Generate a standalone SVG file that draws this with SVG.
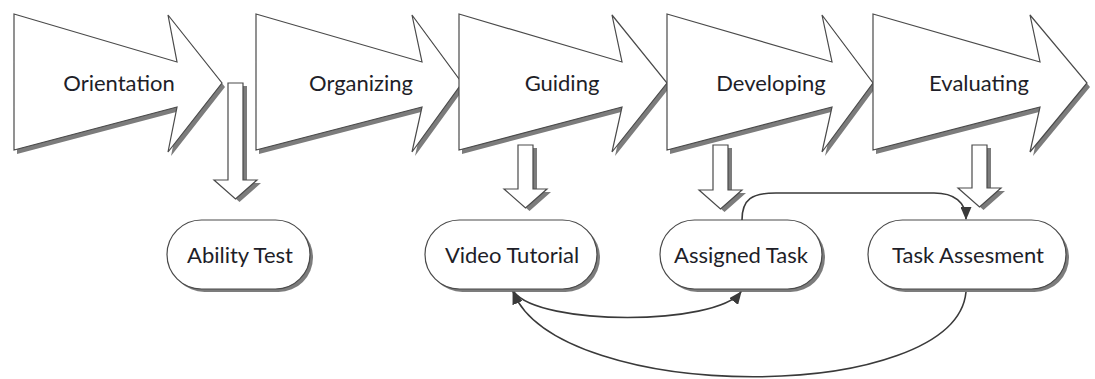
<svg xmlns="http://www.w3.org/2000/svg" xmlns:xlink="http://www.w3.org/1999/xlink" width="1095" height="379" viewBox="0 0 1095 379">
  <style>
    .shadow { fill: #7c7c7c; stroke: none; }
    .shape { fill: #ffffff; stroke: #4a4a4a; stroke-width: 1.2; stroke-linejoin: miter; }
    .label { font-family: Lato, "Liberation Sans", sans-serif; font-size: 22px; fill: #1e1e28; text-anchor: middle; }
    .link { fill: none; stroke: #3a3a3a; stroke-width: 1.6; }
  </style>
  <defs>
    <!-- chevron stage arrows -->
    <polygon id="stage1" points="14,14 177,62 168,15 222,83 168,152 177,107 14,150"/>
    <polygon id="stage2" points="256,14 422,62 412,15 462,83 412,152 422,107 256,150"/>
    <polygon id="stage3" points="459,14 622,62 612,15 667,83 612,152 622,107 459,150"/>
    <polygon id="stage4" points="667,14 832,62 822,15 873,83 822,152 832,107 667,150"/>
    <polygon id="stage5" points="873,14 1040,62 1030,15 1087,83 1030,152 1040,107 873,150"/>
    <!-- hollow down arrows -->
    <polygon id="down1" points="228,83 243,83 243,180 257,180 235.5,199 214,180 228,180"/>
    <polygon id="down2" points="518,145 533,145 533,189 547,189 525.5,208 504,189 518,189"/>
    <polygon id="down3" points="713,145 728,145 728,190 742,190 720.5,209 699,190 713,190"/>
    <polygon id="down4" points="972,145 987,145 987,188 1001,188 979.5,207 958,188 972,188"/>
    <!-- rounded activity boxes -->
    <rect id="box1" x="167" y="220" width="143" height="69" rx="34.5"/>
    <rect id="box2" x="425" y="220" width="172" height="69" rx="34.5"/>
    <rect id="box3" x="660" y="220" width="162" height="69" rx="34.5"/>
    <rect id="box4" x="868" y="220" width="198" height="69" rx="34.5"/>
    <marker id="head" markerUnits="userSpaceOnUse" markerWidth="13" markerHeight="11" refX="12" refY="5.5" orient="auto">
      <path d="M0,0 L13,5.5 L0,11 z" fill="#3a3a3a"/>
    </marker>
  </defs>

  <g id="orientation">
    <use xlink:href="#stage1" class="shadow" transform="translate(3,4)"/>
    <use xlink:href="#stage1" class="shape"/>
    <text class="label" x="119" y="91">Orientation</text>
  </g>
  <g id="organizing">
    <use xlink:href="#stage2" class="shadow" transform="translate(3,4)"/>
    <use xlink:href="#stage2" class="shape"/>
    <text class="label" x="361" y="91">Organizing</text>
  </g>
  <g id="guiding">
    <use xlink:href="#stage3" class="shadow" transform="translate(3,4)"/>
    <use xlink:href="#stage3" class="shape"/>
    <text class="label" x="562" y="91">Guiding</text>
  </g>
  <g id="developing">
    <use xlink:href="#stage4" class="shadow" transform="translate(3,4)"/>
    <use xlink:href="#stage4" class="shape"/>
    <text class="label" x="771" y="91">Developing</text>
  </g>
  <g id="evaluating">
    <use xlink:href="#stage5" class="shadow" transform="translate(3,4)"/>
    <use xlink:href="#stage5" class="shape"/>
    <text class="label" x="979" y="91">Evaluating</text>
  </g>

  <g id="down-arrows">
    <use xlink:href="#down1" class="shadow" transform="translate(4,3)"/>
    <use xlink:href="#down1" class="shape"/>
    <use xlink:href="#down2" class="shadow" transform="translate(4,3)"/>
    <use xlink:href="#down2" class="shape"/>
    <use xlink:href="#down3" class="shadow" transform="translate(4,3)"/>
    <use xlink:href="#down3" class="shape"/>
    <use xlink:href="#down4" class="shadow" transform="translate(4,3)"/>
    <use xlink:href="#down4" class="shape"/>
  </g>

  <g id="ability-test">
    <use xlink:href="#box1" class="shadow" transform="translate(3,3)"/>
    <use xlink:href="#box1" class="shape"/>
    <text class="label" x="240" y="263">Ability Test</text>
  </g>
  <g id="video-tutorial">
    <use xlink:href="#box2" class="shadow" transform="translate(3,3)"/>
    <use xlink:href="#box2" class="shape"/>
    <text class="label" x="512" y="263">Video Tutorial</text>
  </g>
  <g id="assigned-task">
    <use xlink:href="#box3" class="shadow" transform="translate(3,3)"/>
    <use xlink:href="#box3" class="shape"/>
    <text class="label" x="741" y="263">Assigned Task</text>
  </g>
  <g id="task-assesment">
    <use xlink:href="#box4" class="shadow" transform="translate(3,3)"/>
    <use xlink:href="#box4" class="shape"/>
    <text class="label" x="968" y="263">Task Assesment</text>
  </g>

  <g id="connectors">
    <path class="link" d="M742,220 C742,199 752,193 776,193 L934,193 C954,193 966,202 966,219" marker-end="url(#head)"/>
    <path class="link" d="M514,292 C540,326 715,326 741,292" marker-end="url(#head)"/>
    <path class="link" d="M966,292 C955,405 560,405 513,292" marker-end="url(#head)"/>
  </g>
</svg>
